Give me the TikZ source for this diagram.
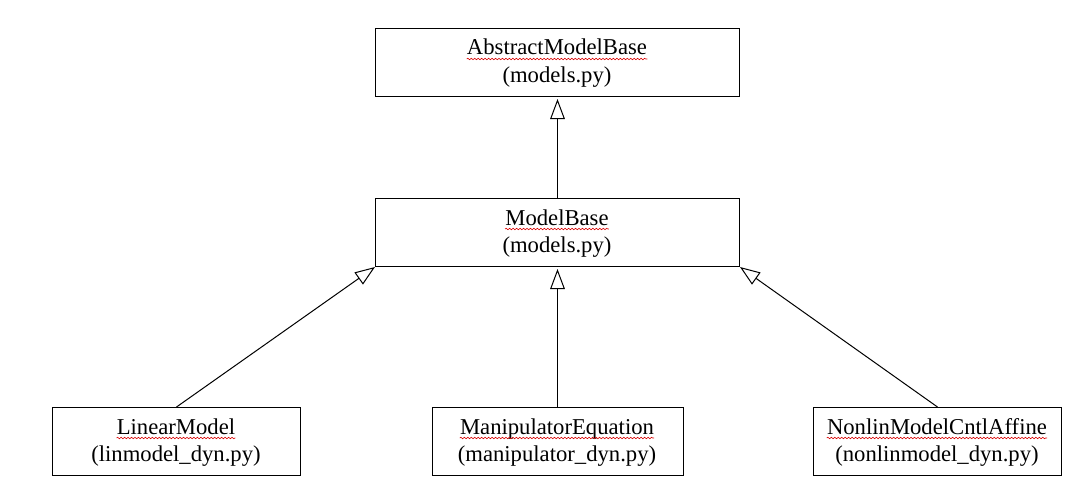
\documentclass[tikz,border=0pt]{standalone}
\usepackage{fontspec}
\setmainfont{Liberation Serif}
\usetikzlibrary{arrows.meta,decorations.pathmorphing}
\begin{document}
\begin{tikzpicture}[x=0.75pt,y=-0.75pt,
  box/.style={draw,line width=0.75pt,minimum height=51pt,inner sep=0pt},
  lbl/.style={font=\fontsize{17}{20}\selectfont,inner sep=0pt,anchor=base},
  squig/.style={draw=red!85!black,line width=0.45pt,decorate,decoration={snake,amplitude=0.55pt,segment length=2.6pt}},
  inh/.style={line width=0.75pt,-{Triangle[open,length=15pt,width=11pt,line width=0.75pt]}}]
\useasboundingbox (0,0) rectangle (1090,489);
% boxes
\node[box,minimum width=273pt,anchor=north west] (amb) at (375,28) {};
\node[box,minimum width=273pt,anchor=north west] (mb) at (375,198) {};
\node[box,minimum width=186pt,anchor=north west] (lm) at (52,407) {};
\node[box,minimum width=188.25pt,anchor=north west] (me) at (431.5,407) {};
\node[box,minimum width=186pt,anchor=north west] (nl) at (813,407) {};
% texts
\node[lbl] (ambt) at (557,55) {AbstractModelBase};
\node[lbl] (ambf) at (557,82) {(models.py)};
\node[lbl] (mbt) at (557,225) {ModelBase};
\node[lbl] (mbf) at (557,252) {(models.py)};
\node[lbl] (lmt) at (176,434) {LinearModel};
\node[lbl] (lmf) at (176,461) {(linmodel\textunderscore dyn.py)};
\node[lbl] (met) at (557,434) {ManipulatorEquation};
\node[lbl] (mef) at (557,461) {(manipulator\textunderscore dyn.py)};
\node[lbl] (nlt) at (937,434) {NonlinModelCntlAffine};
\node[lbl] (nlf) at (937,461) {(nonlinmodel\textunderscore dyn.py)};
% spell-check squiggles
\foreach \t in {ambt,mbt,lmt,met,nlt}{
  \draw[squig] ([yshift=-3pt]\t.base west) -- ([yshift=-3pt]\t.base east);
}
% inheritance arrows
\draw[inh,shorten >=1.5pt] (mb.north) -- (amb.south);
\draw[inh] (lm.north) -- (mb.south west);
\draw[inh,shorten >=1.5pt] (me.north) -- (mb.south);
\draw[inh] (nl.north) -- (mb.south east);
\end{tikzpicture}
\end{document}
